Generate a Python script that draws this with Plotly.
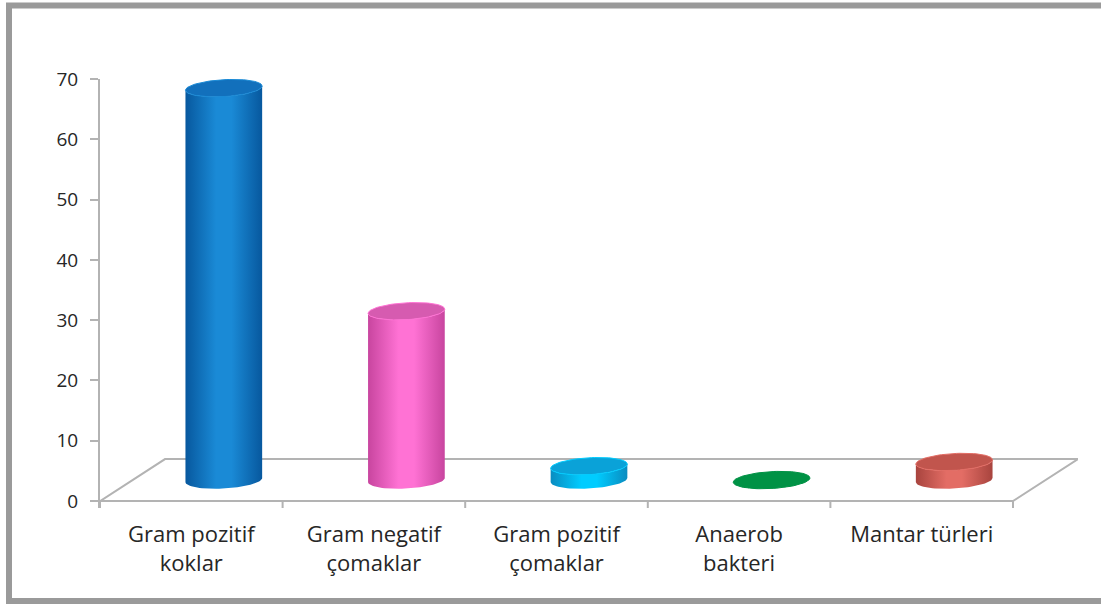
import numpy as np
import plotly.graph_objects as go

categories = ["Gram pozitif<br>koklar", "Gram negatif<br>çomaklar", "Gram pozitif<br>çomaklar",
              "Anaerob<br>bakteri", "Mantar türleri"]
values = [65, 28, 2.3, 0, 3]
y_ticks = [0, 10, 20, 30, 40, 50, 60, 70]

edge_colors = ["#07589e", "#c8459f", "#0a8cc0", "#007a38", "#a8443e"]
light_colors = ["#1a8ad6", "#ff72d4", "#00ccff", "#00a04c", "#e36d65"]
cap_colors = ["#1270bc", "#d65bb0", "#0aa2d8", "#009245", "#c1554d"]

W, H = 1101, 606
ML, MR, MT, MB = 100, 23, 79, 98
DX, DY = 0.356, 6.97          # depth offset (data units)
YMIN, YMAX = -1.15, 70
XMIN, XMAX = -0.5, 4.5 + DX
A = 0.21                      # cylinder half width
B = 1.4                       # ellipse half height
S = 0.35                      # perspective tilt

fig = go.Figure()

# floor
fig.add_shape(type="path",
              path=f"M {XMIN},0 L 4.5,0 L {4.5+DX},{DY} L {XMIN+DX},{DY} Z",
              line=dict(color="#b3b3b3", width=2), fillcolor="white", layer="below")

# x tick marks
for b in np.arange(-0.5, 5.0, 1.0):
    fig.add_trace(go.Scatter(x=[b, b], y=[0, YMIN], mode="lines",
                             line=dict(color="#b3b3b3", width=2),
                             hoverinfo="skip", showlegend=False))

t_bot = np.linspace(np.pi, 2 * np.pi, 40)
t_top = np.linspace(2 * np.pi, np.pi, 40)
t_full = np.linspace(0, 2 * np.pi, 80)
for i, v in enumerate(values):
    cx = i + DX / 2
    yb = DY / 2
    yt = yb + v
    xs = list(cx + A * np.cos(t_bot)) + list(cx + A * np.cos(t_top))
    ys = list(yb + B * np.sin(t_bot) + S * np.cos(t_bot)) + \
         list(yt + B * np.sin(t_top) + S * np.cos(t_top))
    xs.append(xs[0]); ys.append(ys[0])
    fig.add_trace(go.Scatter(
        x=xs, y=ys, mode="lines", fill="toself", line=dict(width=0),
        fillgradient=dict(type="horizontal",
                          colorscale=[[0, edge_colors[i]], [0.4, light_colors[i]],
                                      [0.6, light_colors[i]], [1, edge_colors[i]]]),
        hoverinfo="skip", showlegend=False))
    fig.add_trace(go.Scatter(
        x=cx + A * np.cos(t_full), y=yt + B * np.sin(t_full) + S * np.cos(t_full),
        mode="lines", fill="toself", fillcolor=cap_colors[i],
        line=dict(width=1, color=light_colors[i] if v > 0 else cap_colors[i]),
        hoverinfo="skip", showlegend=False))

# outer frame
pw, ph = W - ML - MR, H - MT - MB
def px(x): return (x - ML) / pw
def py(y): return (H - MB - y) / ph
fig.add_shape(type="rect", xref="paper", yref="paper",
              x0=px(9), x1=px(1108), y0=py(601), y1=py(5.5),
              line=dict(color="#9a9a9a", width=6), fillcolor="rgba(0,0,0,0)")

fig.update_layout(
    width=W, height=H, margin=dict(l=ML, r=MR, t=MT, b=MB),
    paper_bgcolor="white", plot_bgcolor="white",
    font=dict(family="Open Sans", color="#262626"),
    xaxis=dict(range=[XMIN, XMAX], tickmode="array", tickvals=list(range(len(categories))),
               ticktext=categories, ticks="", showgrid=False, zeroline=False, showline=False,
               tickfont=dict(size=22), fixedrange=True, ticklabelstandoff=11),
    yaxis=dict(range=[YMIN, YMAX], tickmode="array", tickvals=y_ticks,
               ticks="outside", ticklen=8, tickwidth=2, tickcolor="#b3b3b3",
               showline=True, linecolor="#b3b3b3", linewidth=2,
               showgrid=False, zeroline=False, tickfont=dict(size=19), ticklabelstandoff=8),
)

fig.write_html("out.html")
